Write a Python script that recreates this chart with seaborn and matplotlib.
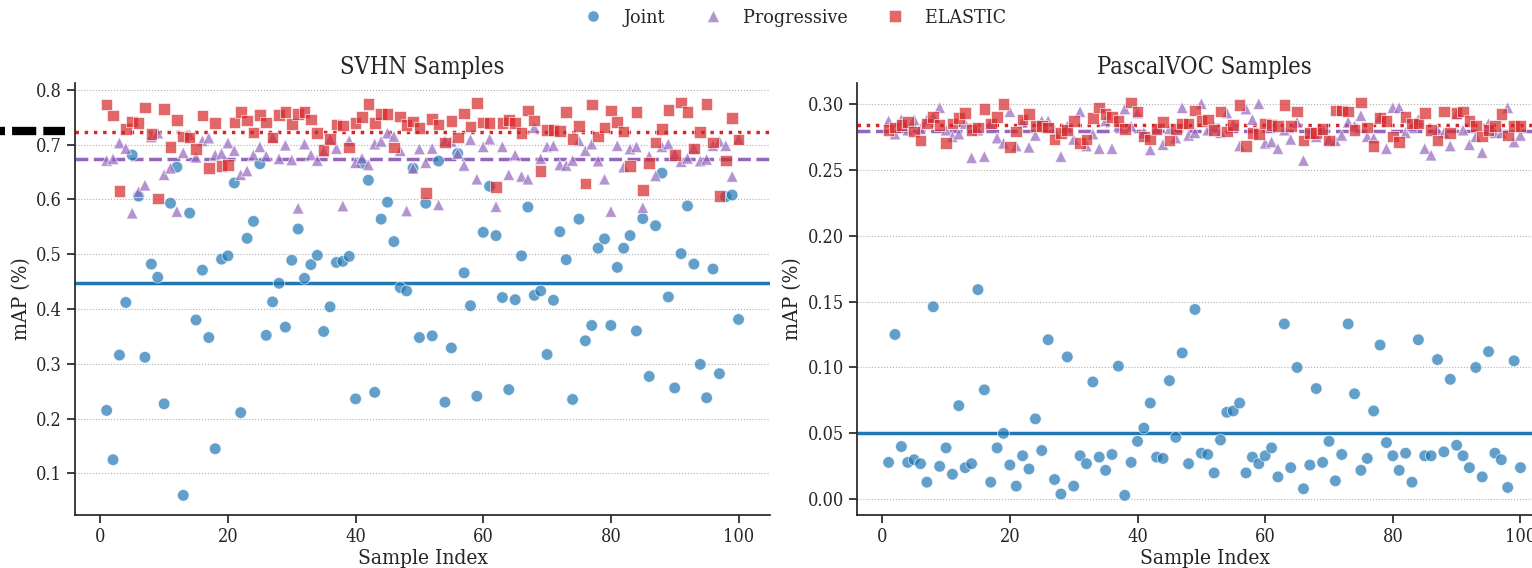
import numpy as np
import pandas as pd
import matplotlib
matplotlib.use("Agg")
import matplotlib.pyplot as plt
from matplotlib.lines import Line2D
from matplotlib import font_manager
import seaborn as sns

sample_index = list(range(1, 101))
methods = ["Joint", "Progressive", "ELASTIC"]

svhn_joint = [0.215, 0.125, 0.316, 0.412, 0.681, 0.606, 0.312, 0.482, 0.458, 0.227,
              0.593, 0.659, 0.060, 0.575, 0.380, 0.471, 0.348, 0.145, 0.491, 0.497,
              0.630, 0.211, 0.529, 0.560, 0.665, 0.352, 0.413, 0.447, 0.367, 0.489,
              0.546, 0.456, 0.481, 0.498, 0.359, 0.404, 0.485, 0.487, 0.496, 0.236,
              0.666, 0.635, 0.248, 0.564, 0.595, 0.523, 0.439, 0.433, 0.657, 0.348,
              0.593, 0.351, 0.670, 0.230, 0.329, 0.684, 0.466, 0.406, 0.241, 0.540,
              0.624, 0.534, 0.421, 0.253, 0.417, 0.497, 0.586, 0.425, 0.433, 0.317,
              0.416, 0.541, 0.490, 0.235, 0.564, 0.342, 0.370, 0.511, 0.528, 0.370,
              0.476, 0.511, 0.534, 0.360, 0.565, 0.277, 0.552, 0.648, 0.422, 0.256,
              0.501, 0.588, 0.482, 0.299, 0.238, 0.473, 0.282, 0.605, 0.608, 0.381]
svhn_progressive = [0.671, 0.674, 0.703, 0.693, 0.575, 0.614, 0.626, 0.714, 0.721, 0.645,
                    0.657, 0.578, 0.685, 0.718, 0.677, 0.707, 0.712, 0.681, 0.684, 0.703,
                    0.689, 0.645, 0.652, 0.681, 0.696, 0.679, 0.713, 0.674, 0.699, 0.672,
                    0.584, 0.701, 0.681, 0.671, 0.687, 0.710, 0.693, 0.588, 0.707, 0.667,
                    0.675, 0.663, 0.701, 0.706, 0.721, 0.715, 0.689, 0.579, 0.657, 0.692,
                    0.667, 0.693, 0.590, 0.707, 0.706, 0.684, 0.662, 0.709, 0.637, 0.696,
                    0.710, 0.587, 0.696, 0.645, 0.681, 0.642, 0.637, 0.731, 0.674, 0.696,
                    0.698, 0.663, 0.662, 0.671, 0.707, 0.689, 0.701, 0.670, 0.637, 0.578,
                    0.698, 0.659, 0.692, 0.696, 0.585, 0.679, 0.643, 0.696, 0.701, 0.683,
                    0.669, 0.675, 0.693, 0.670, 0.673, 0.698, 0.706, 0.698, 0.642, 0.710]
svhn_elastic = [0.773, 0.753, 0.615, 0.728, 0.742, 0.739, 0.768, 0.719, 0.602, 0.765,
                0.696, 0.745, 0.715, 0.713, 0.692, 0.753, 0.657, 0.739, 0.661, 0.663,
                0.740, 0.759, 0.744, 0.722, 0.754, 0.740, 0.713, 0.754, 0.759, 0.738,
                0.756, 0.759, 0.746, 0.721, 0.690, 0.710, 0.737, 0.735, 0.695, 0.739,
                0.750, 0.774, 0.739, 0.756, 0.756, 0.695, 0.751, 0.736, 0.742, 0.730,
                0.612, 0.747, 0.737, 0.704, 0.743, 0.713, 0.757, 0.733, 0.776, 0.740,
                0.739, 0.623, 0.739, 0.745, 0.739, 0.721, 0.762, 0.744, 0.652, 0.727,
                0.727, 0.725, 0.760, 0.710, 0.734, 0.629, 0.773, 0.715, 0.731, 0.762,
                0.741, 0.724, 0.661, 0.759, 0.617, 0.667, 0.704, 0.729, 0.763, 0.681,
                0.777, 0.759, 0.693, 0.723, 0.774, 0.704, 0.606, 0.671, 0.749, 0.709]

voc_joint = [0.028, 0.125, 0.040, 0.028, 0.030, 0.027, 0.013, 0.146, 0.025, 0.039,
             0.019, 0.071, 0.024, 0.027, 0.159, 0.083, 0.013, 0.039, 0.050, 0.026,
             0.010, 0.033, 0.023, 0.061, 0.037, 0.121, 0.015, 0.004, 0.108, 0.010,
             0.033, 0.027, 0.089, 0.032, 0.022, 0.034, 0.101, 0.003, 0.028, 0.044,
             0.054, 0.073, 0.032, 0.031, 0.090, 0.047, 0.111, 0.027, 0.144, 0.035,
             0.034, 0.020, 0.045, 0.066, 0.067, 0.073, 0.020, 0.032, 0.027, 0.033,
             0.039, 0.017, 0.133, 0.024, 0.100, 0.008, 0.026, 0.084, 0.028, 0.044,
             0.014, 0.034, 0.133, 0.080, 0.022, 0.031, 0.067, 0.117, 0.043, 0.033,
             0.022, 0.035, 0.013, 0.121, 0.033, 0.033, 0.106, 0.036, 0.091, 0.041,
             0.033, 0.024, 0.100, 0.017, 0.112, 0.035, 0.030, 0.009, 0.105, 0.024]
voc_progressive = [0.287, 0.277, 0.288, 0.280, 0.288, 0.281, 0.288, 0.290, 0.297, 0.280,
                   0.275, 0.277, 0.285, 0.259, 0.280, 0.260, 0.285, 0.274, 0.270, 0.294,
                   0.268, 0.286, 0.267, 0.276, 0.287, 0.287, 0.280, 0.260, 0.283, 0.273,
                   0.294, 0.268, 0.277, 0.266, 0.287, 0.266, 0.283, 0.296, 0.283, 0.293,
                   0.278, 0.265, 0.281, 0.269, 0.281, 0.274, 0.297, 0.276, 0.278, 0.300,
                   0.280, 0.283, 0.278, 0.293, 0.284, 0.268, 0.296, 0.288, 0.300, 0.270,
                   0.271, 0.266, 0.280, 0.273, 0.286, 0.257, 0.278, 0.275, 0.280, 0.273,
                   0.272, 0.276, 0.286, 0.283, 0.291, 0.275, 0.274, 0.290, 0.266, 0.297,
                   0.297, 0.278, 0.283, 0.288, 0.266, 0.261, 0.280, 0.278, 0.268, 0.292,
                   0.280, 0.269, 0.275, 0.263, 0.285, 0.278, 0.278, 0.297, 0.271, 0.276]
voc_elastic = [0.280, 0.282, 0.284, 0.286, 0.279, 0.272, 0.285, 0.290, 0.284, 0.270,
               0.285, 0.289, 0.293, 0.280, 0.282, 0.296, 0.285, 0.290, 0.300, 0.267,
               0.279, 0.288, 0.292, 0.283, 0.283, 0.282, 0.273, 0.278, 0.280, 0.287,
               0.270, 0.273, 0.289, 0.297, 0.292, 0.290, 0.287, 0.281, 0.301, 0.294,
               0.275, 0.273, 0.281, 0.286, 0.272, 0.281, 0.285, 0.285, 0.295, 0.287,
               0.288, 0.280, 0.294, 0.279, 0.284, 0.299, 0.268, 0.278, 0.277, 0.285,
               0.284, 0.283, 0.299, 0.283, 0.294, 0.272, 0.278, 0.278, 0.281, 0.272,
               0.295, 0.295, 0.294, 0.280, 0.301, 0.282, 0.268, 0.289, 0.287, 0.275,
               0.271, 0.290, 0.285, 0.285, 0.293, 0.280, 0.272, 0.294, 0.278, 0.293,
               0.294, 0.287, 0.283, 0.275, 0.280, 0.283, 0.292, 0.276, 0.283, 0.283]

colors = {"Joint": "#1f77b4", "Progressive": "#9467bd", "ELASTIC": "#d62728"}
markers = {"Joint": "o", "Progressive": "^", "ELASTIC": "s"}
mean_styles = {"Joint": "-", "Progressive": "--", "ELASTIC": ":"}

sns.set_theme(style="ticks")
installed = {f.name for f in font_manager.fontManager.ttflist}
fams = [f for f in ["DejaVu Serif Condensed", "DejaVu Serif"] if f in installed] or ["serif"]
plt.rcParams["font.family"] = fams
if "DejaVu Serif Condensed" not in installed:
    plt.rcParams["font.stretch"] = "condensed"

fig = plt.figure(figsize=(15.32, 5.68), dpi=100)
ax1 = fig.add_axes([0.049, 0.0933, 0.4537, 0.761])
ax2 = fig.add_axes([0.5594, 0.0933, 0.4537, 0.761])

panels = [
    (ax1, "SVHN Samples", {"Joint": svhn_joint, "Progressive": svhn_progressive, "ELASTIC": svhn_elastic}),
    (ax2, "PascalVOC Samples", {"Joint": voc_joint, "Progressive": voc_progressive, "ELASTIC": voc_elastic}),
]

for ax, title, series in panels:
    frames = []
    for m in methods:
        frames.append(pd.DataFrame({"Sample Index": sample_index, "mAP": series[m], "Method": m}))
    df = pd.concat(frames, ignore_index=True)
    ax.yaxis.grid(True, linestyle=":", color="#b0b0b0", linewidth=0.8)
    ax.set_axisbelow(True)
    sns.scatterplot(data=df, x="Sample Index", y="mAP", hue="Method", style="Method",
                    palette=colors, markers=markers, s=70, alpha=0.7,
                    edgecolor="white", linewidth=0.6, legend=False, ax=ax, zorder=3)
    for m in methods:
        ax.axhline(np.mean(series[m]), color=colors[m], linestyle=mean_styles[m],
                   linewidth=2.5, zorder=2)
    ax.set_title(title, fontsize=17)
    ax.set_xlabel("Sample Index", fontsize=15, labelpad=2)
    ax.set_ylabel("mAP (%)", fontsize=15)
    ax.tick_params(labelsize=13)
    ax.set_xticks([0, 20, 40, 60, 80, 100])
    sns.despine(ax=ax)

handles = [Line2D([0], [0], marker=markers[m], color="none", markerfacecolor=colors[m],
                  markeredgecolor="white", markeredgewidth=0.5, alpha=0.7, markersize=8)
           for m in methods]
fig.legend(handles, methods, loc="upper center", bbox_to_anchor=(0.5157, 1.015), ncol=3,
           frameon=False, fontsize=14, columnspacing=1.45, handletextpad=0.55)

# stray dashed mark at the left edge
stray = Line2D([0.0, 65 / 1532], [1 - 131 / 568, 1 - 131 / 568], transform=fig.transFigure,
               color="black", linewidth=6, linestyle=(2.3, (2.9, 0.85)))
stray.set_dash_capstyle("butt")
fig.add_artist(stray)

fig.savefig("out.png", dpi=100)
